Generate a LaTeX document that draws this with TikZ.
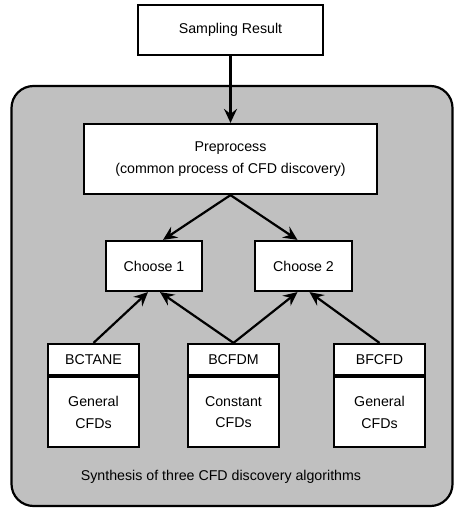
\documentclass[tikz,border=0pt]{standalone}
\usepackage{fontspec}
\setmainfont{Liberation Sans}
\usetikzlibrary{arrows.meta}
\definecolor{framegray}{RGB}{192,192,192}
\begin{document}
\begin{tikzpicture}[x=1pt,y=-1pt,
  every node/.style={font=\fontsize{14.2}{21.5}\selectfont, inner sep=0pt, align=center},
  box/.style={draw, line width=2.2pt, fill=white},
  arr/.style={line width=2.2pt, -{Stealth[length=14pt,width=13pt,inset=5pt]}}]
\useasboundingbox (0,0) rectangle (454,508);
\node[draw, line width=2.2pt, fill=framegray, rounded corners=22pt, minimum width=441pt, minimum height=420pt] (frame) at (232,296) {};
\node[box, minimum width=185pt, minimum height=50pt] (sampling) at (230.5,30) {Sampling Result};
\node[box, minimum width=293pt, minimum height=70pt] (pre) at (230.5,159) {Preprocess\\(common process of CFD discovery)};
\node[box, minimum width=96pt, minimum height=50pt] (c1) at (154,266) {Choose 1};
\node[box, minimum width=97pt, minimum height=50pt] (c2) at (303.5,266) {Choose 2};
\node[box, minimum width=91pt, minimum height=31pt] (bctane) at (93.5,359.5) {BCTANE};
\node[box, minimum width=91pt, minimum height=70pt, anchor=north] (bctaneb) at (bctane.south) {General\\CFDs};
\node[box, minimum width=91pt, minimum height=31pt] (bcfdm) at (233.5,359.5) {BCFDM};
\node[box, minimum width=91pt, minimum height=70pt, anchor=north] (bcfdmb) at (bcfdm.south) {Constant\\CFDs};
\node[box, minimum width=91pt, minimum height=31pt] (bfcfd) at (379.5,359.5) {BFCFD};
\node[box, minimum width=91pt, minimum height=70pt, anchor=north] (bfcfdb) at (bfcfd.south) {General\\CFDs};
\node (synth) at (221,477) {Synthesis of three CFD discovery algorithms};
\draw[arr] (sampling.south) -- (pre.north);
\draw[arr] (pre.south) -- ([xshift=9pt]c1.north);
\draw[arr] (pre.south) -- ([xshift=-6pt]c2.north);
\draw[arr] (bctane.north) -- ([xshift=-6pt]c1.south);
\draw[arr] (bcfdm.north) -- ([xshift=6pt]c1.south);
\draw[arr] (bcfdm.north) -- ([xshift=-6pt]c2.south);
\draw[arr] (bfcfd.north) -- ([xshift=6pt]c2.south);
\end{tikzpicture}
\end{document}
